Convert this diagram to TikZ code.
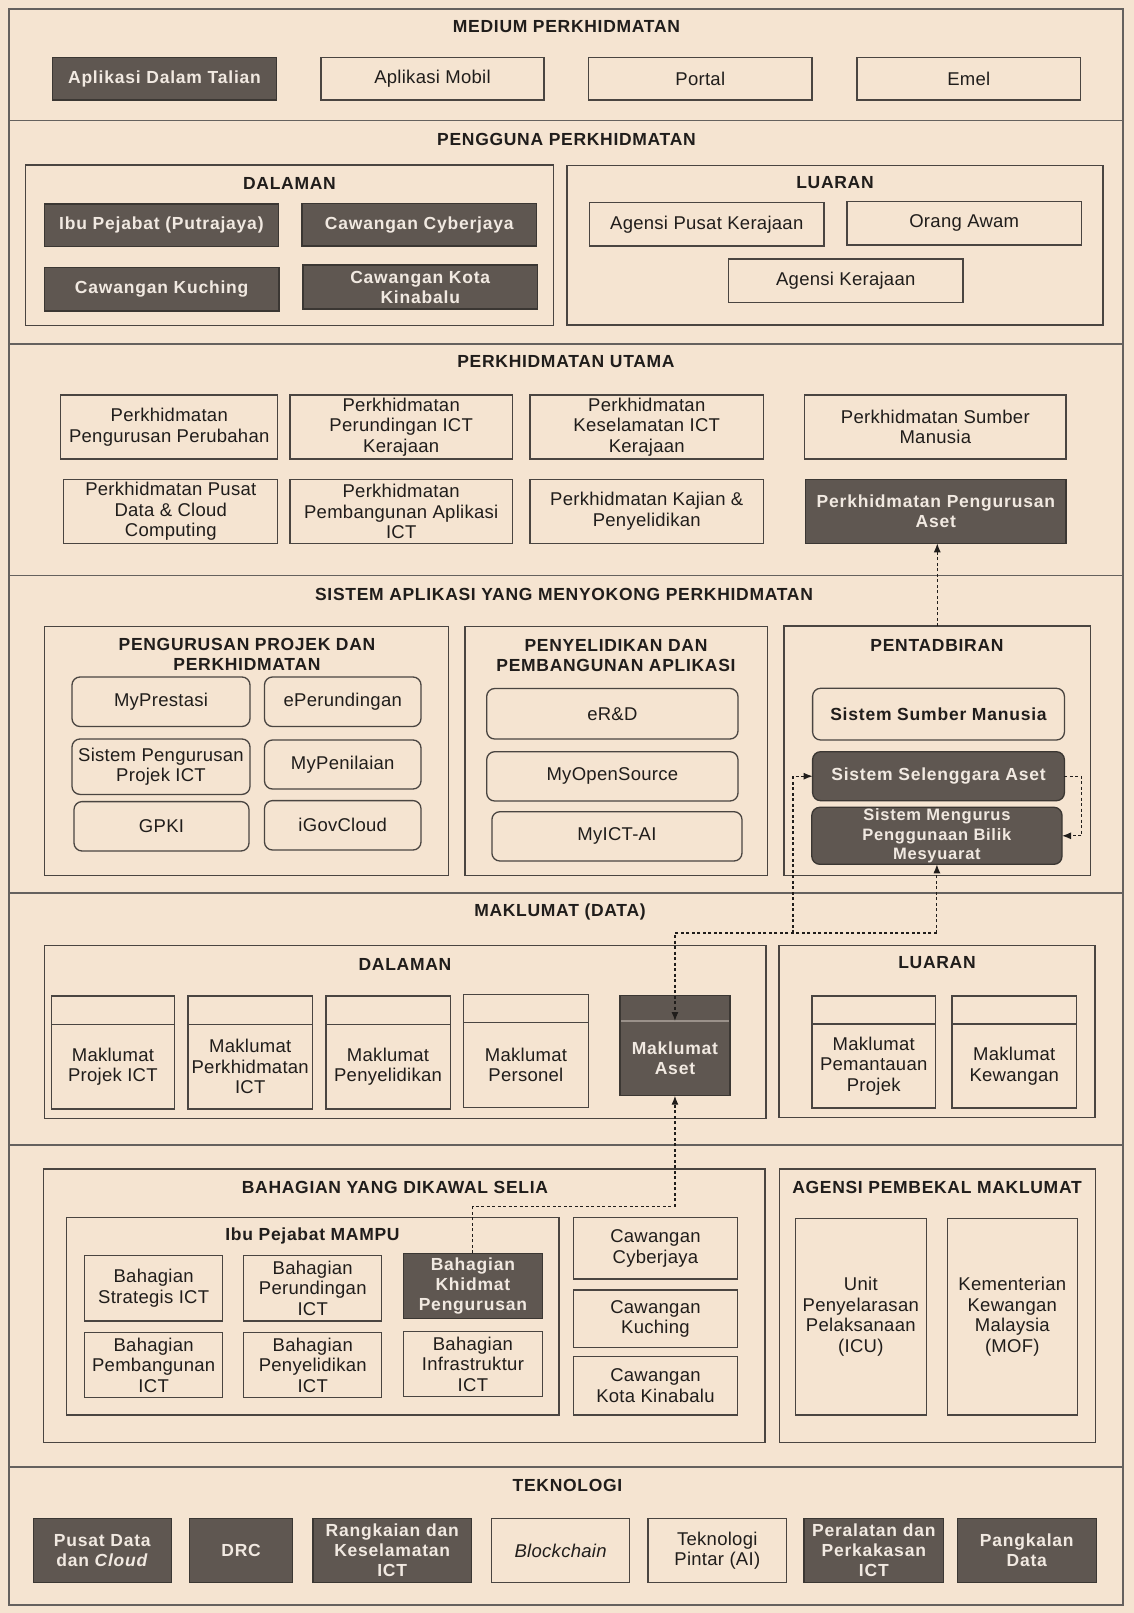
\documentclass[tikz,border=0pt]{standalone}
\usepackage{fontspec}
\setmainfont[LetterSpace=1.5]{Liberation Sans}
\newfontfamily\dkfont[LetterSpace=4.5]{Liberation Sans}
\newfontfamily\hdfont[LetterSpace=4]{Liberation Sans}
\usetikzlibrary{arrows.meta}

\definecolor{paper}{HTML}{F5E4D1}
\definecolor{ink}{HTML}{4A4541}
\definecolor{txt}{HTML}{201D1B}
\definecolor{darkfill}{HTML}{5F5751}
\definecolor{darkedge}{HTML}{3B3733}
\definecolor{paletext}{HTML}{F1E9E1}
\definecolor{sepline}{HTML}{9A918A}

\newcommand\fsreg{\fontsize{18.5}{20.5}\selectfont}
\newcommand\fsdark{\dkfont\bfseries\fontsize{17.5}{20}\selectfont}
\newcommand\fshead{\hdfont\bfseries\fontsize{17.5}{20.5}\selectfont}

% box from corner (x1,y1) to (x2,y2): style, name, x1, y1, x2, y2, text
\newcommand\blk[7]{\node[#1,minimum width={#5-#3},minimum height={#6-#4}] (#2) at ({(#3+#5)/2},{(#4+#6)/2}) {#7};}
% heading: name, x, y, text
\newcommand\hd[4]{\node[head] (#1) at (#2,#3) {#4};}

\tikzset{
  x=1pt, y=-1pt,
  base/.style={rectangle, inner sep=2pt, outer sep=0pt, align=center},
  band/.style={base, draw=ink!85, line width=1.6pt},
  grp/.style={base, draw=ink, line width=1.4pt},
  plain/.style={base, draw=ink, line width=1.3pt, fill=paper, text=txt, font=\fsreg},
  dark/.style={base, draw=darkedge, line width=1.3pt, fill=darkfill, text=paletext, font=\fsdark},
  rplain/.style={plain, rounded corners=8pt},
  rdark/.style={dark, rounded corners=8pt},
  head/.style={align=center, text=txt, font=\fshead, inner sep=0pt},
  conn/.style={draw=txt, line width=1.1pt, dash pattern=on 3pt off 2.5pt,
    -{Latex[length=9pt,width=7pt]}},
  link/.style={draw=txt, line width=1.1pt, dash pattern=on 3pt off 2.5pt},
}

\begin{document}
\begin{tikzpicture}
\useasboundingbox[fill=paper] (0,0) rectangle (1134,1613);

% horizontal bands of the architecture
\blk{band}{secA}{9}{9}{1123}{120.5}{}
\blk{band}{secB}{9}{120.5}{1123}{344}{}
\blk{band}{secC}{9}{344}{1123}{575.5}{}
\blk{band}{secD}{9}{575.5}{1123}{893}{}
\blk{band}{secE}{9}{893}{1123}{1145}{}
\blk{band}{secF}{9}{1145}{1123}{1467}{}
\blk{band}{secG}{9}{1467}{1123}{1605}{}

% ---------------- MEDIUM PERKHIDMATAN
\hd{hA}{566.5}{27}{MEDIUM PERKHIDMATAN}
\blk{dark}{m1}{52.5}{57.5}{276.5}{100}{Aplikasi Dalam Talian}
\blk{plain}{m2}{321}{57.5}{544}{100}{Aplikasi Mobil}
\blk{plain}{m3}{588.5}{57.5}{812}{100}{Portal}
\blk{plain}{m4}{857}{57.5}{1080.5}{100}{Emel}

% ---------------- PENGGUNA PERKHIDMATAN
\hd{hB}{566.5}{139}{PENGGUNA PERKHIDMATAN}
\blk{grp}{gDalamA}{25.5}{165}{553.5}{325.5}{}
\blk{grp}{gLuarA}{567}{165.5}{1103}{325}{}
\hd{hDalamA}{289.5}{183.5}{DALAMAN}
\hd{hLuarA}{835}{183}{LUARAN}
\blk{dark}{u1}{44.3}{204}{278.5}{246.5}{Ibu Pejabat (Putrajaya)}
\blk{dark}{u2}{302}{203.5}{536.5}{246}{Cawangan Cyberjaya}
\blk{dark}{u3}{44.3}{267.5}{279}{311}{Cawangan Kuching}
\blk{dark}{u4}{303}{265}{537.5}{309}{Cawangan Kota\\Kinabalu}
\blk{plain}{l1}{589.5}{202.5}{824}{246}{Agensi Pusat Kerajaan}
\blk{plain}{l2}{847}{201.5}{1081.5}{245}{Orang Awam}
\blk{plain}{l3}{728.5}{259}{963}{302.5}{Agensi Kerajaan}

% ---------------- PERKHIDMATAN UTAMA
\hd{hC}{566}{362}{PERKHIDMATAN UTAMA}
\blk{plain}{s1}{60.7}{395}{277.8}{459}{Perkhidmatan\\Pengurusan Perubahan}
\blk{plain}{s2}{290}{395}{512.4}{459}{Perkhidmatan\\Perundingan ICT\\Kerajaan}
\blk{plain}{s3}{530}{395}{763.5}{459}{Perkhidmatan\\Keselamatan ICT\\Kerajaan}
\blk{plain}{s4}{804.7}{395}{1066}{459}{Perkhidmatan Sumber\\Manusia}
\blk{plain}{s5}{63.8}{479.5}{277.8}{543.3}{Perkhidmatan Pusat\\Data \& Cloud\\Computing}
\blk{plain}{s6}{290}{479.5}{512.4}{543.3}{Perkhidmatan\\Pembangunan Aplikasi\\ICT}
\blk{plain}{s7}{530}{479.5}{763.5}{543.3}{Perkhidmatan Kajian \&\\Penyelidikan}
\blk{dark}{aset}{805.7}{479.5}{1066}{543.3}{Perkhidmatan Pengurusan\\Aset}

% ---------------- SISTEM APLIKASI
\hd{hD}{564}{594}{SISTEM APLIKASI YANG MENYOKONG PERKHIDMATAN}
\blk{grp}{gProj}{44.2}{626.5}{448.6}{875.5}{}
\blk{grp}{gPny}{465}{626.5}{767.6}{875.5}{}
\blk{grp}{pent}{784}{626}{1090.5}{875.5}{}
\hd{hProj}{247}{654.5}{PENGURUSAN PROJEK DAN\\PERKHIDMATAN}
\hd{hPny}{616}{655.5}{PENYELIDIKAN DAN\\PEMBANGUNAN APLIKASI}
\hd{hPent}{937}{645}{PENTADBIRAN}
\blk{rplain}{p1}{72}{677}{250}{726.5}{MyPrestasi}
\blk{rplain}{p2}{264.5}{677}{421}{726.5}{ePerundingan}
\blk{rplain}{p3}{72}{739}{250}{794.4}{Sistem Pengurusan\\Projek ICT}
\blk{rplain}{p4}{264.5}{740}{421}{789}{MyPenilaian}
\blk{rplain}{p5}{74}{801.6}{249}{851}{GPKI}
\blk{rplain}{p6}{264.5}{800.6}{421}{850}{iGovCloud}
\blk{rplain}{r1}{486.7}{688.5}{738}{739}{eR\&D}
\blk{rplain}{r2}{486.7}{751.7}{738}{801}{MyOpenSource}
\blk{rplain}{r3}{491.9}{811.7}{742}{861}{MyICT-AI}
\blk{rplain,font=\fsdark}{ssm}{812.6}{688.3}{1064.4}{740}{Sistem Sumber Manusia}
\blk{rdark}{sel}{812.6}{751.7}{1064.4}{800.7}{Sistem Selenggara Aset}
\blk{rdark,inner sep=0pt,font={\dkfont\bfseries\fontsize{16.5}{19.5}\selectfont}}{meng}{811.8}{807.3}{1062}{864.3}{Sistem Mengurus\\Penggunaan Bilik\\Mesyuarat}

% ---------------- MAKLUMAT (DATA)
\hd{hE}{560}{912}{MAKLUMAT (DATA)}
\blk{grp}{gDalamB}{44.2}{945.7}{765.8}{1118.3}{}
\blk{grp}{gLuarB}{779}{945.7}{1095}{1117.5}{}
\hd{hDalamB}{405}{964.5}{DALAMAN}
\hd{hLuarB}{937}{963}{LUARAN}
% record boxes: an empty header strip above the labelled body
\blk{plain}{d1h}{51.2}{996}{174.6}{1024.3}{}
\blk{plain}{d1}{51.2}{1024.3}{174.6}{1109}{Maklumat\\Projek ICT}
\blk{plain}{d2h}{188}{996}{312.4}{1024.3}{}
\blk{plain}{d2}{188}{1024.3}{312.4}{1109}{Maklumat\\Perkhidmatan\\ICT}
\blk{plain}{d3h}{325.9}{996}{450.2}{1024.3}{}
\blk{plain}{d3}{325.9}{1024.3}{450.2}{1109}{Maklumat\\Penyelidikan}
\blk{plain}{d4h}{463.2}{994.7}{588.6}{1022.3}{}
\blk{plain}{d4}{463.2}{1022.3}{588.6}{1107.3}{Maklumat\\Personel}
\blk{dark}{mah}{620}{995.7}{729.9}{1021}{}
\blk{dark}{ma}{620}{1021}{729.9}{1095.7}{Maklumat\\Aset}
\draw[sepline, line width=1.6pt] ([xshift=1pt]mah.south west) -- ([xshift=-1pt]mah.south east);
\blk{plain}{d6h}{812}{996}{935.4}{1024}{}
\blk{plain}{d6}{812}{1024}{935.4}{1108}{Maklumat\\Pemantauan\\Projek}
\blk{plain}{d7h}{952}{996}{1076.5}{1024}{}
\blk{plain}{d7}{952}{1024}{1076.5}{1108}{Maklumat\\Kewangan}

% ---------------- BAHAGIAN / AGENSI
\blk{grp}{gBhg}{43.4}{1169}{765}{1442.3}{}
\blk{grp}{gAgn}{779.5}{1169}{1095.4}{1442.3}{}
\hd{hBhg}{395}{1187.5}{BAHAGIAN YANG DIKAWAL SELIA}
\hd{hAgn}{937}{1187.5}{AGENSI PEMBEKAL MAKLUMAT}
\blk{grp}{gMampu}{66.5}{1217.7}{559}{1415}{}
\hd{hMampu}{312.5}{1236}{Ibu Pejabat MAMPU}
\blk{plain}{b1}{84.6}{1255.7}{222.7}{1321}{Bahagian\\Strategis ICT}
\blk{plain}{b2}{243.7}{1255.7}{381.8}{1321}{Bahagian\\Perundingan\\ICT}
\blk{dark}{bkp}{403.5}{1253.3}{542.3}{1318.3}{Bahagian\\Khidmat\\Pengurusan}
\blk{plain}{b4}{84.6}{1332.7}{222.7}{1397.7}{Bahagian\\Pembangunan\\ICT}
\blk{plain}{b5}{243.7}{1332.7}{381.8}{1397.7}{Bahagian\\Penyelidikan\\ICT}
\blk{plain}{b6}{403.5}{1331.7}{542.3}{1396.7}{Bahagian\\Infrastruktur\\ICT}
\blk{plain}{c1}{573.4}{1217.7}{737.5}{1279}{Cawangan\\Cyberjaya}
\blk{plain}{c2}{573.4}{1290}{737.5}{1347.7}{Cawangan\\Kuching}
\blk{plain}{c3}{573.4}{1356.7}{737.5}{1415}{Cawangan\\Kota Kinabalu}
\blk{plain}{a1}{795.4}{1218.3}{926.2}{1415}{Unit\\Penyelarasan\\Pelaksanaan\\(ICU)}
\blk{plain}{a2}{947.2}{1218.3}{1077.4}{1415}{Kementerian\\Kewangan\\Malaysia\\(MOF)}

% ---------------- TEKNOLOGI
\hd{hG}{567.5}{1485.5}{TEKNOLOGI}
\blk{dark}{t1}{33.3}{1518.3}{171.4}{1582.7}{Pusat Data\\dan \textit{Cloud}}
\blk{dark}{t2}{189.4}{1518.3}{292.8}{1582.7}{DRC}
\blk{dark}{t3}{313}{1518.3}{471.4}{1582.7}{Rangkaian dan\\Keselamatan\\ICT}
\blk{plain}{t4}{491.7}{1518.3}{629.8}{1582.7}{\textit{Blockchain}}
\blk{plain}{t5}{647.9}{1518.3}{786.7}{1582.7}{Teknologi\\Pintar (AI)}
\blk{dark}{t6}{804}{1518.3}{943.6}{1582.7}{Peralatan dan\\Perkakasan\\ICT}
\blk{dark}{t7}{957.3}{1518.3}{1096.2}{1582.7}{Pangkalan\\Data}

% ---------------- dotted asset-flow connectors
\coordinate (jA) at (meng.south |- 0,933);
\coordinate (jB) at (793,933);
\coordinate (jC) at (ma.south |- 0,1206.7);
\coordinate (jD) at (1081.6,0);
\draw[conn] (pent.north) -- (pent.north |- aset.south);
\draw[conn] (jA) -- (meng.south);
\draw[conn] (jA) -| (ma.north);
\draw[conn] (jB) |- (sel.west);
\draw[conn] (sel.east) -| (jD |- meng.east) -- (meng.east);
\draw[link] (bkp.north) |- (jC);
\draw[conn] (jC) -- (ma.south);
\end{tikzpicture}
\end{document}
